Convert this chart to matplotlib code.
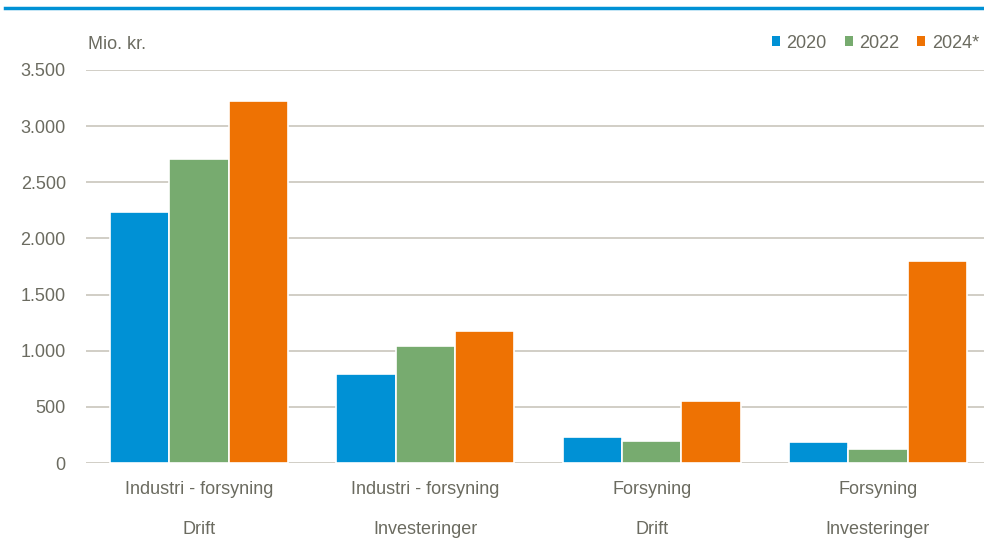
import matplotlib
matplotlib.use("Agg")
import matplotlib.pyplot as plt
import numpy as np
from matplotlib.patches import Patch
from matplotlib.lines import Line2D

categories = ["Industri - forsyning\nDrift", "Industri - forsyning\nInvesteringer",
              "Forsyning\nDrift", "Forsyning\nInvesteringer"]
series_names = ["2020", "2022", "2024*"]
v2020 = [2235, 793, 231, 190]
v2022 = [2707, 1042, 199, 127]
v2024 = [3223, 1175, 555, 1800]
yticks = [0, 500, 1000, 1500, 2000, 2500, 3000, 3500]
ytick_labels = ["0", "500", "1.000", "1.500", "2.000", "2.500", "3.000", "3.500"]

colors = ["#0091D5", "#77AB6F", "#EE7203"]
text_color = "#6B6B60"
grid_color = "#C9C6BC"

plt.rcParams['font.family'] = ['Liberation Sans', 'DejaVu Sans']
fs = 13

W, H = 984, 541
fig = plt.figure(figsize=(W/100, H/100), dpi=100)
left, right, top, bottom = 86, 991, 70, 463
ax = fig.add_axes([left/W, 1 - bottom/H, (right-left)/W, (bottom-top)/H])

x = np.arange(len(categories))
bw = 0.262
for i, (vals, c) in enumerate(zip([v2020, v2022, v2024], colors)):
    ax.bar(x + (i-1)*bw, vals, width=bw, color=c, edgecolor="white", linewidth=1.2, zorder=3)

ax.set_xlim(-0.5, 3.5)
ax.set_ylim(0, 3500)
ax.set_yticks(yticks)
ax.set_yticklabels(ytick_labels, fontsize=fs, color=text_color)
ax.set_xticks(x)
ax.set_xticklabels(categories, fontsize=fs, color=text_color, linespacing=2.75)
ax.tick_params(axis='both', length=0)
ax.tick_params(axis='y', pad=14.5)
ax.tick_params(axis='x', pad=13)
ax.grid(axis='y', color=grid_color, linewidth=1.2, zorder=0)
for s in ax.spines.values():
    s.set_visible(False)

fig.text(88/W, 1 - 45/H, "Mio. kr.", fontsize=fs, color=text_color, va='center', ha='left')

# top blue rule
fig.add_artist(Line2D([5/W, 1.0], [1 - 8/H, 1 - 8/H], color="#0091D5", linewidth=2.5))

handles = [Patch(facecolor=c, edgecolor='none') for c in colors]
leg = fig.legend(handles, series_names, loc='center right', bbox_to_anchor=(979/W, 1 - 43/H),
                 ncol=3, frameon=False, fontsize=fs, handlelength=0.45, handleheight=0.45,
                 handletextpad=0.35, columnspacing=1.0, labelcolor=text_color,
                 borderpad=0, borderaxespad=0)

fig.savefig("out.png", dpi=100)
